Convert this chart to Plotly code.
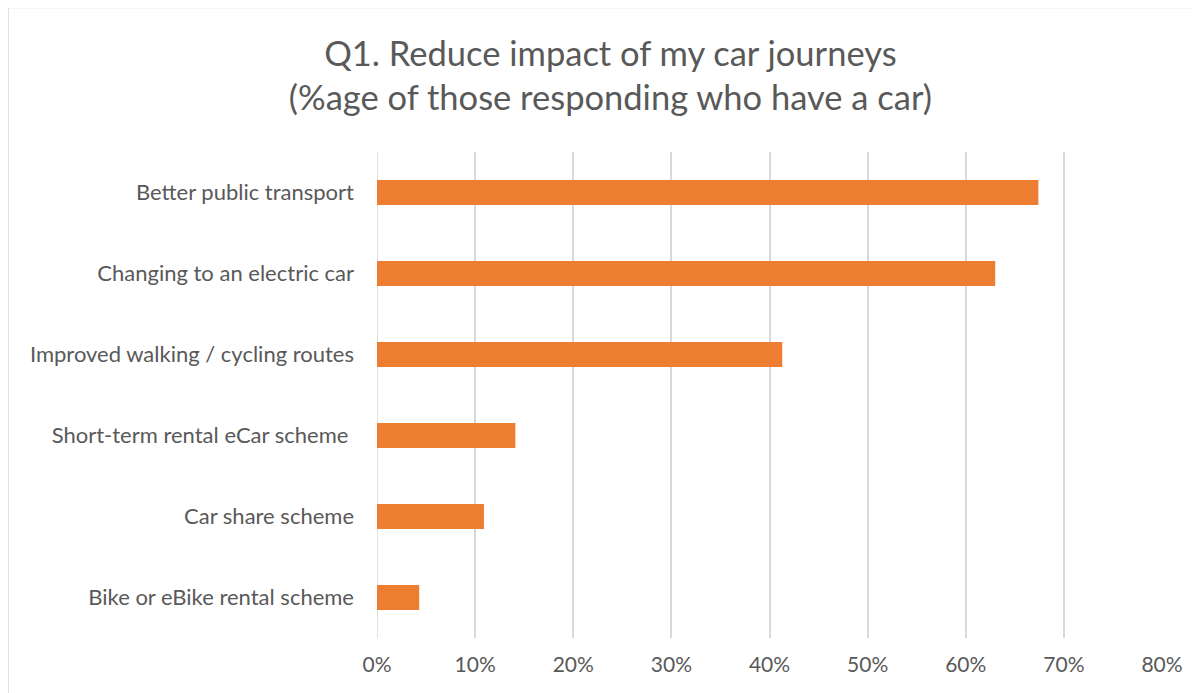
import plotly.graph_objects as go

categories = [
    "Better public transport",
    "Changing to an electric car",
    "Improved walking / cycling routes",
    "Short-term rental eCar scheme ",
    "Car share scheme",
    "Bike or eBike rental scheme",
]
values = [0.674, 0.630, 0.413, 0.141, 0.109, 0.043]
tick_vals = [0, 0.1, 0.2, 0.3, 0.4, 0.5, 0.6, 0.7, 0.8]
tick_text = ["0%", "10%", "20%", "30%", "40%", "50%", "60%", "70%", "80%"]
title_text = "Q1. Reduce impact of my car journeys<br>(%age of those responding who have a car)"

FONT = "Lato"
GREY = "#595959"

fig = go.Figure(go.Bar(
    y=categories,
    x=values,
    orientation="h",
    marker=dict(color="#ED7D31", line=dict(width=0)),
    hoverinfo="x+y",
))

fig.update_layout(
    width=1200, height=693,
    margin=dict(l=369, r=46, t=144, b=63),
    paper_bgcolor="white",
    plot_bgcolor="white",
    bargap=0.69,
    showlegend=False,
    title=dict(
        text=title_text,
        x=0.502, xanchor="center", xref="container",
        y=0.917, yanchor="middle", yref="container",
        font=dict(family=FONT, size=34.5, color=GREY),
    ),
    xaxis=dict(
        range=[0, 0.8],
        tickvals=tick_vals,
        ticktext=tick_text,
        showgrid=True,
        gridcolor="#D9D9D9",
        gridwidth=1.5,
        zeroline=False,
        showline=False,
        ticks="",
        tickfont=dict(family=FONT, size=21, color=GREY),
        ticklabelstandoff=12,
    ),
    yaxis=dict(
        autorange="reversed",
        showgrid=False,
        zeroline=False,
        showline=False,
        ticks="",
        ticklabelstandoff=22,
        tickfont=dict(family=FONT, size=22, color=GREY),
    ),
    shapes=[
        dict(type="line", xref="x", yref="paper", x0=0, x1=0, y0=0, y1=1,
             line=dict(color="#D9D9D9", width=1.5), layer="below"),
        dict(type="rect", xref="paper", yref="paper",
             x0=-369 / 785, x1=(1200 - 369) / 785 + 0.05,
             y0=-0.2, y1=(144 + 0.5) / 486 + 1,
             line=dict(color="#D9D9D9", width=1.5), fillcolor="rgba(0,0,0,0)",
             layer="below"),
    ],
)

fig.write_html("out.html")
